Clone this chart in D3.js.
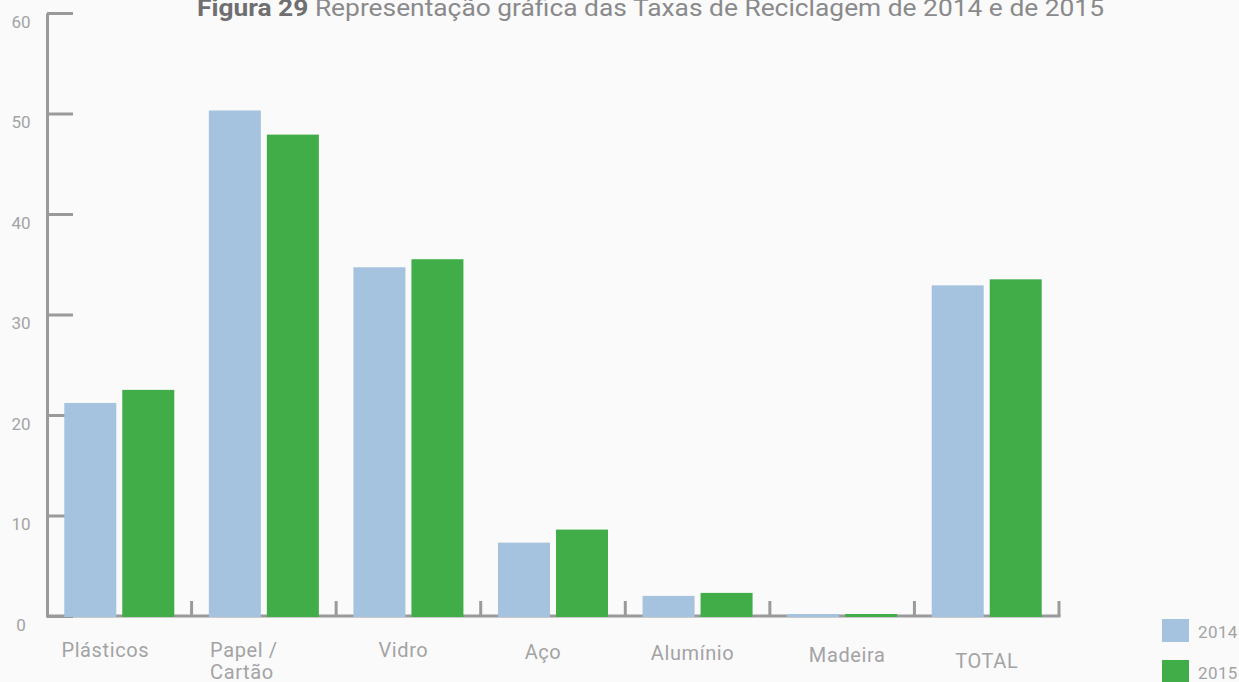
<!DOCTYPE html>
<html>
<head>
<meta charset="utf-8">
<script src="https://cdn.jsdelivr.net/npm/d3@7"></script>
<style>
  html, body { margin: 0; padding: 0; background: #fafafa; }
  svg { display: block; font-family: Roboto, "Noto Sans", sans-serif; }
</style>
</head>
<body>
<svg id="chart" width="1239" height="682"></svg>
<script>
// Recycling rates by material, 2014 vs 2015 (%)
const categories = ["Plásticos", "Papel / Cartão", "Vidro", "Aço", "Alumínio", "Madeira", "TOTAL"];
const series = ["2014", "2015"];
const values2014 = [21.2, 50.3, 34.7, 7.3, 2.0, 0.2, 32.9];
const values2015 = [22.5, 47.9, 35.5, 8.6, 2.3, 0.2, 33.5];
const yTicks = [0, 10, 20, 30, 40, 50, 60];

// Layout tweaks for the category labels (horizontal nudge, baseline)
const labelNudge = [-14, -20, -5, -10, -5, 5, 0];
const labelBaseline = [657, 657, 657, 659, 660, 662, 668];

const colors = { "2014": "#a5c2de", "2015": "#41ad49" };
const axisColor = "#9a9a9c";
const textColor = "#a3a3a5";

const svg = d3.select("#chart");

const x0 = d3.scaleBand().domain(categories).range([47, 1059]).paddingInner(0).paddingOuter(0);
const x1 = d3.scaleBand().domain(series).range([0, x0.bandwidth()])
  .paddingInner(0.1034).paddingOuter(0.298);
const y = d3.scaleLinear().domain([0, 60]).range([616, 13]);

// Title
const title = svg.append("text")
  .attr("x", 197).attr("y", 16)
  .attr("font-size", 24.5)
  .attr("textLength", 907).attr("lengthAdjust", "spacingAndGlyphs");
title.append("tspan").attr("font-weight", "bold").attr("fill", "#6f6f71").text("Figura 29");
title.append("tspan").attr("fill", "#8a8a8c").text(" Representação gráfica das Taxas de Reciclagem de 2014 e de 2015");

// Y axis
const yAxis = svg.append("g")
  .attr("transform", "translate(47,0)")
  .call(d3.axisRight(y).tickValues(yTicks).tickSizeInner(26).tickSizeOuter(0).tickFormat(d3.format("d")));
yAxis.select(".domain").attr("stroke", axisColor).attr("stroke-width", 3);
yAxis.selectAll(".tick line").attr("stroke", axisColor).attr("stroke-width", 3);
yAxis.selectAll(".tick text")
  .attr("x", -26).attr("dy", null).attr("y", 14)
  .attr("text-anchor", "middle")
  .attr("font-size", 17).attr("font-family", "Roboto, sans-serif")
  .attr("fill", textColor);

// X baseline and category separators
svg.append("line")
  .attr("x1", 46).attr("x2", x0.range()[1] + 1.5)
  .attr("y1", y(0)).attr("y2", y(0))
  .attr("stroke", axisColor).attr("stroke-width", 3);
svg.append("g").selectAll("line")
  .data(categories)
  .join("line")
  .attr("x1", d => x0(d) + x0.bandwidth()).attr("x2", d => x0(d) + x0.bandwidth())
  .attr("y1", y(0) - 15).attr("y2", y(0))
  .attr("stroke", axisColor).attr("stroke-width", 3);

// Bars
const rows = categories.map((c, i) => ({ c, vals: [
  { s: "2014", v: values2014[i] },
  { s: "2015", v: values2015[i] }
]}));
svg.append("g").selectAll("g")
  .data(rows)
  .join("g")
  .attr("transform", d => `translate(${x0(d.c)},0)`)
  .selectAll("rect")
  .data(d => d.vals)
  .join("rect")
  .attr("x", d => x1(d.s))
  .attr("width", x1.bandwidth())
  .attr("y", d => y(d.v))
  .attr("height", d => y(0) + 1 - y(d.v))
  .attr("fill", d => colors[d.s]);

// Category labels (two-line labels are left-aligned under their first line)
const lab = svg.append("g").selectAll("text")
  .data(categories)
  .join("text")
  .attr("x", (d, i) => x0(d) + x0.bandwidth() / 2 + labelNudge[i])
  .attr("y", (d, i) => labelBaseline[i])
  .attr("text-anchor", "middle")
  .attr("font-size", 20)
  .attr("letter-spacing", 0.6)
  .attr("fill", textColor);
lab.each(function(d) {
  const parts = d.split(" / ");
  const t = d3.select(this);
  if (parts.length > 1) {
    const first = t.append("tspan").attr("x", t.attr("x")).text(parts[0] + " /");
    const w = first.node().getComputedTextLength();
    const left = +t.attr("x") - w / 2;
    t.attr("text-anchor", "start");
    first.attr("x", left);
    t.append("tspan").attr("x", left).attr("dy", 22).text(parts[1]);
  } else {
    t.text(d);
  }
});

// Legend
const legend = svg.append("g").selectAll("g")
  .data(series)
  .join("g")
  .attr("transform", (d, i) => `translate(1162,${619 + i * 41})`);
legend.append("rect").attr("width", 27).attr("height", 23).attr("fill", d => colors[d]);
legend.append("text")
  .attr("x", 36).attr("y", 19)
  .attr("font-size", 17).attr("letter-spacing", 0.4)
  .attr("fill", textColor)
  .text(d => d);
</script>
</body>
</html>
